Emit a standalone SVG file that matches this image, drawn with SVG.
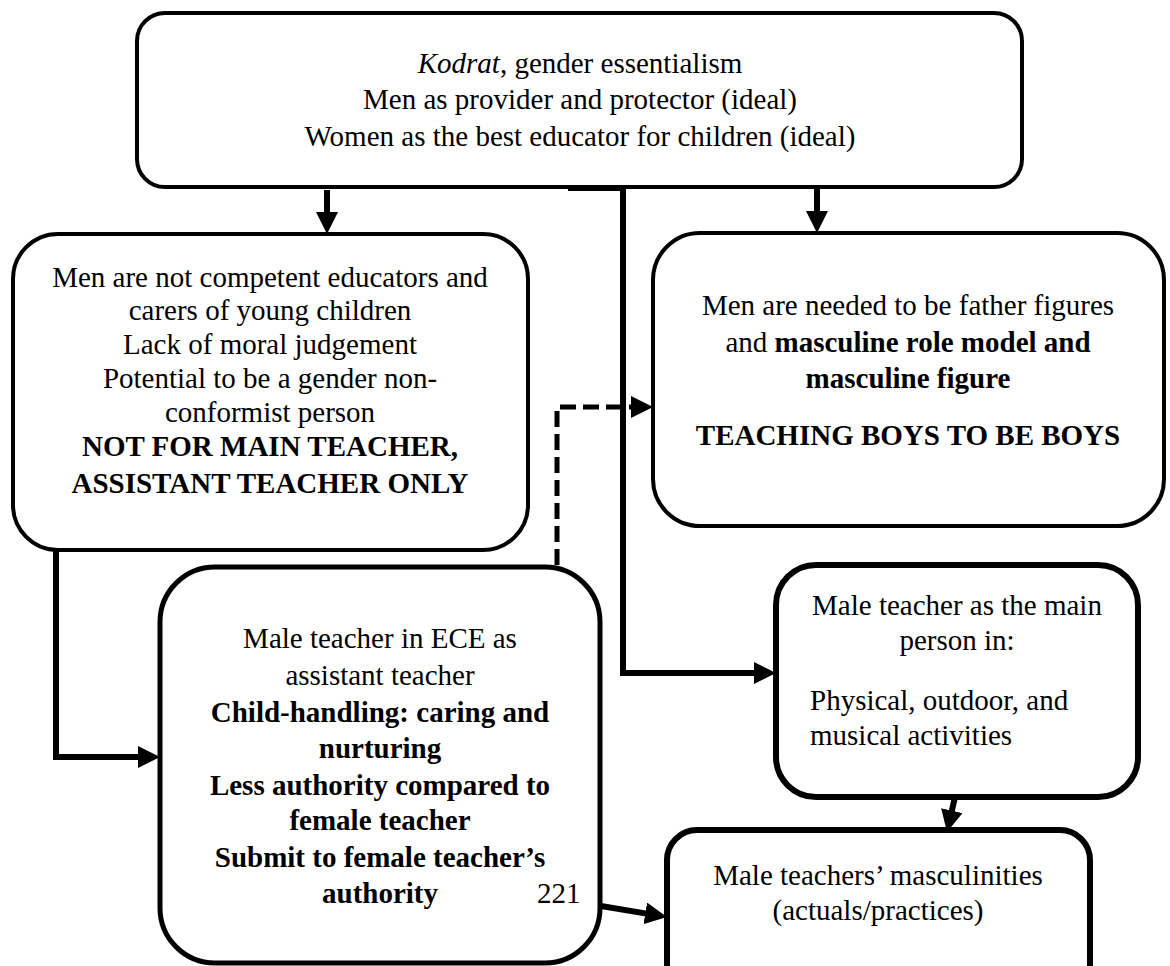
<svg xmlns="http://www.w3.org/2000/svg" width="1170" height="966" viewBox="0 0 1170 966">
<style>
.box{fill:#fff;stroke:#000}
.t{font-family:"Liberation Serif","Times New Roman",serif;font-size:29px;fill:#000}
.c{text-anchor:middle}
.b{font-weight:bold}
.conn{fill:none;stroke:#000;stroke-width:6}
.dash{stroke-width:5;stroke-dasharray:16 7}
</style>
<defs>
<marker id="ah" markerUnits="userSpaceOnUse" markerWidth="22" markerHeight="22" viewBox="0 0 22 22" refX="12" refY="11" orient="auto">
<path d="M0,0 L22,11 L0,22 z" fill="#000"/>
</marker>
</defs>
<rect x="0" y="0" width="1170" height="966" fill="#fff"/>

<g id="top">
<rect class="box" x="137" y="13" width="885" height="174" rx="28" stroke-width="4"/>
<text class="t c" x="580" y="73"><tspan font-style="italic">Kodrat</tspan>, gender essentialism</text>
<text class="t c" x="580" y="109">Men as provider and protector (ideal)</text>
<text class="t c" x="580" y="146">Women as the best educator for children (ideal)</text>
</g>

<g id="left">
<rect class="box" x="13" y="234" width="515" height="316" rx="45" stroke-width="4"/>
<text class="t c" x="270" y="287">Men are not competent educators and</text>
<text class="t c" x="270" y="320">carers of young children</text>
<text class="t c" x="270" y="354">Lack of moral judgement</text>
<text class="t c" x="270" y="388">Potential to be a gender non-</text>
<text class="t c" x="270" y="422">conformist person</text>
<text class="t c b" x="270" y="456">NOT FOR MAIN TEACHER,</text>
<text class="t c b" x="270" y="493">ASSISTANT TEACHER ONLY</text>
</g>

<g id="right">
<rect class="box" x="653" y="233" width="511" height="293" rx="47" stroke-width="4"/>
<text class="t c" x="908" y="315">Men are needed to be father figures</text>
<text class="t c" x="908" y="352">and <tspan font-weight="bold">masculine role model and</tspan></text>
<text class="t c b" x="908" y="388">masculine figure</text>
<text class="t c b" x="908" y="445">TEACHING BOYS TO BE BOYS</text>
</g>

<g id="middle">
<rect class="box" x="160" y="567" width="440" height="396" rx="55" stroke-width="5"/>
<text class="t c" x="380" y="648">Male teacher in ECE as</text>
<text class="t c" x="380" y="685">assistant teacher</text>
<text class="t c b" x="380" y="722">Child-handling: caring and</text>
<text class="t c b" x="380" y="758">nurturing</text>
<text class="t c b" x="380" y="795">Less authority compared to</text>
<text class="t c b" x="380" y="830">female teacher</text>
<text class="t c b" x="380" y="867">Submit to female teacher’s</text>
<text class="t c b" x="380" y="903">authority</text>
<text class="t" x="537" y="903">221</text>
</g>

<g id="mainperson">
<rect class="box" x="776" y="565" width="362" height="232" rx="40" stroke-width="6"/>
<text class="t c" x="957" y="615">Male teacher as the main</text>
<text class="t c" x="957" y="650">person in:</text>
<text class="t" x="810" y="710">Physical, outdoor, and</text>
<text class="t" x="810" y="745">musical activities</text>
</g>

<g id="masculinities">
<rect class="box" x="667" y="830" width="423" height="170" rx="30" stroke-width="6"/>
<text class="t c" x="878" y="885">Male teachers’ masculinities</text>
<text class="t c" x="878" y="920">(actuals/practices)</text>
</g>

<g id="connectors">
<path class="conn" d="M327,190 V224" marker-end="url(#ah)"/>
<path class="conn" d="M817,188 V223" marker-end="url(#ah)"/>
<path class="conn" d="M568,188 H623 V673 H766" marker-end="url(#ah)"/>
<path class="conn" d="M56,550 V757 H150" marker-end="url(#ah)"/>
<path class="conn dash" d="M557,565 V407 H643" marker-end="url(#ah)"/>
<path class="conn" d="M955,797 L949.2,822.3" marker-end="url(#ah)"/>
<path class="conn" d="M601,906 L657.1,915.4" marker-end="url(#ah)"/>
</g>
</svg>
